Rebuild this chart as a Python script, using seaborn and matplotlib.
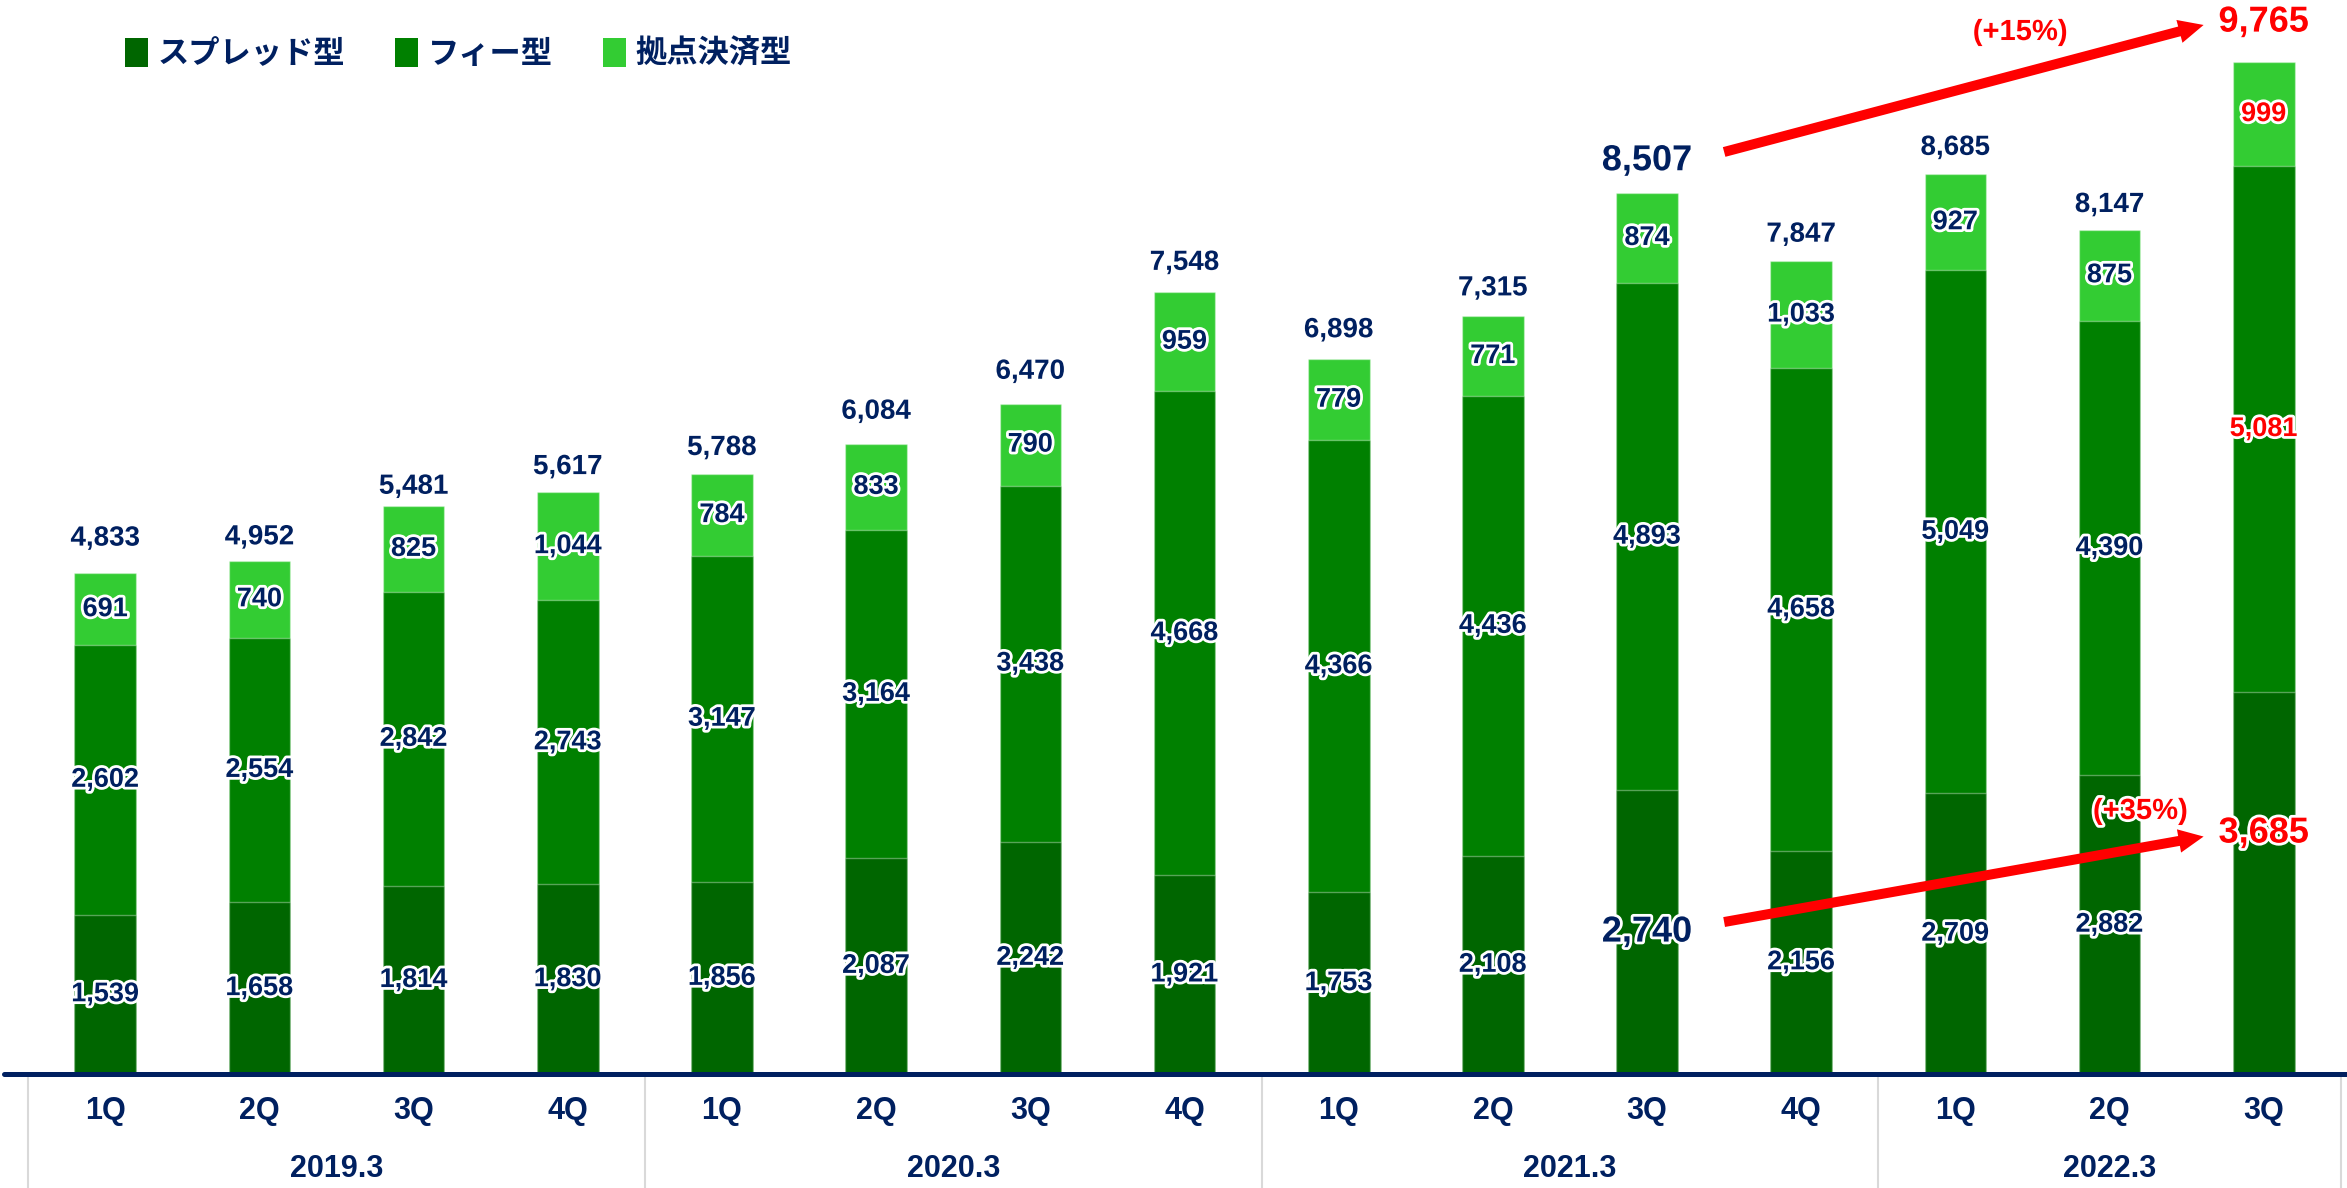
import matplotlib
matplotlib.use("Agg")
import matplotlib.pyplot as plt
import matplotlib.patheffects as pe
import matplotlib.transforms as mtransforms
from matplotlib.patches import Patch
from matplotlib.font_manager import FontProperties
import pandas as pd
import seaborn as sns

# ---- data -------------------------------------------------------------
quarters = ["1Q", "2Q", "3Q", "4Q", "1Q", "2Q", "3Q", "4Q",
            "1Q", "2Q", "3Q", "4Q", "1Q", "2Q", "3Q"]
fiscal_years = ["2019.3"] * 4 + ["2020.3"] * 4 + ["2021.3"] * 4 + ["2022.3"] * 3
year_labels = ["2019.3", "2020.3", "2021.3", "2022.3"]

spread = [1539, 1658, 1814, 1830, 1856, 2087, 2242, 1921,
          1753, 2108, 2740, 2156, 2709, 2882, 3685]
fee = [2602, 2554, 2842, 2743, 3147, 3164, 3438, 4668,
       4366, 4436, 4893, 4658, 5049, 4390, 5081]
hub = [691, 740, 825, 1044, 784, 833, 790, 959,
       779, 771, 874, 1033, 927, 875, 999]
totals = [4833, 4952, 5481, 5617, 5788, 6084, 6470, 7548,
          6898, 7315, 8507, 7847, 8685, 8147, 9765]

series_names = ["スプレッド型", "フィー型", "拠点決済型"]
series_colors = ["#006600", "#008000", "#33CC33"]

growth_total = "(+15%)"
growth_spread = "(+35%)"

NAVY = "#002060"
RED = "#FF0000"

# gap (points) between each bar top and the centre of its total label
total_label_gap = [25, 17, 14, 18, 19, 23, 23, 21, 21, 20, 23, 19, 19, 18, 29]

# ---- style ---------------------------------------------------------------
sns.set_style("white")
NUM_FONT = "Liberation Sans"
plt.rcParams["font.family"] = [NUM_FONT, "Noto Sans CJK JP", "DejaVu Sans"]

# ---- figure ------------------------------------------------------------
W, H = 2347, 1188
fig = plt.figure(figsize=(W / 100, H / 100), dpi=100)
base_px = 1074
ax = fig.add_axes([4 / W, (H - base_px) / H, (W - 4) / W, base_px / H])

df = pd.DataFrame({
    "period": [f"{y} {q}" for y, q in zip(fiscal_years, quarters)],
    "spread": spread, "fee": fee, "hub": hub,
})
df["fee_top"] = df["spread"] + df["fee"]
df["hub_top"] = df["fee_top"] + df["hub"]

# stacked bars drawn back to front as cumulative heights
for col, color in [("hub_top", series_colors[2]),
                   ("fee_top", series_colors[1]),
                   ("spread", series_colors[0])]:
    sns.barplot(data=df, x="period", y=col, color=color, saturation=1,
                width=0.40, errorbar=None, ax=ax,
                edgecolor=(1, 1, 1, 0.35), linewidth=1)

ax.set_xlim(-0.657, 14.54)
ax.set_ylim(0, 10367)
ax.set_xlabel("")
ax.set_ylabel("")
ax.set_yticks([])
for s in ax.spines.values():
    s.set_visible(False)
ax.axhline(0, color=NAVY, lw=3.6, zorder=5, clip_on=False)

ax.set_xticks(range(len(quarters)))
ax.set_xticklabels(quarters, fontsize=22, fontweight="bold", color=NAVY)
ax.tick_params(axis="x", length=0, pad=16)

trans = mtransforms.blended_transform_factory(ax.transData, ax.transAxes)
below = -(H - base_px) / base_px
for xs in [-0.5, 3.5, 7.5, 11.5, 14.5]:
    ax.plot([xs, xs], [0, below], transform=trans, color="#D9D9D9",
            lw=1.5, clip_on=False, zorder=1)
group_centers = [1.5, 5.5, 9.5, 13.0]
for xc, yl in zip(group_centers, year_labels):
    ax.text(xc, -(1169 - base_px) / base_px, yl, transform=trans,
            ha="center", va="center", fontsize=22, fontweight="bold",
            color=NAVY)

# ---- value labels -----------------------------------------------------
glow = [pe.withStroke(linewidth=4, foreground="white")]
for i in range(len(quarters)):
    mids = [spread[i] / 2,
            spread[i] + fee[i] / 2,
            spread[i] + fee[i] + hub[i] / 2]
    vals = [spread[i], fee[i], hub[i]]
    for k, (m, v) in enumerate(zip(mids, vals)):
        color = RED if i == 14 else NAVY
        if i == 10 and k == 0:
            ax.text(i, m, f"{v:,}", ha="center", va="center", fontsize=26,
                    fontweight="bold", color=NAVY, path_effects=glow,
                    zorder=6)
        elif i == 14 and k == 0:
            ax.text(i, 2326, f"{v:,}", ha="center", va="center",
                    fontsize=26, fontweight="bold", color=RED,
                    path_effects=glow, zorder=6)
        else:
            ax.text(i, m, f"{v:,}", ha="center", va="center", fontsize=19.5,
                    fontweight="bold", color=color, path_effects=glow,
                    zorder=6)

    big = i in (10, 14)
    ax.annotate(f"{totals[i]:,}", (i, totals[i]),
                xytext=(0, total_label_gap[i]), textcoords="offset points",
                ha="center", va="center", fontsize=26 if big else 20,
                fontweight="bold", color=RED if i == 14 else NAVY,
                path_effects=glow)

# ---- growth arrows ------------------------------------------------------
arrow_kw = dict(arrowstyle="simple,head_length=1.8,head_width=1.7,tail_width=0.72",
                fc=RED, ec="none", lw=0, mutation_scale=10,
                shrinkA=0, shrinkB=0)
ax.annotate("", xy=(13.61, 10126), xytext=(10.50, 8900),
            arrowprops=arrow_kw, annotation_clip=False, zorder=7)
ax.annotate("", xy=(13.61, 2292), xytext=(10.50, 1467),
            arrowprops=arrow_kw, annotation_clip=False, zorder=7)
ax.text(12.42, 10058, growth_total, ha="center", va="center", fontsize=21,
        fontweight="bold", color=RED, path_effects=glow)
ax.text(13.20, 2539, growth_spread, ha="center", va="center", fontsize=21,
        fontweight="bold", color=RED, path_effects=glow, zorder=7)

# ---- legend ---------------------------------------------------------------
handles = [Patch(facecolor=c, edgecolor="none") for c in series_colors]
leg = fig.legend(handles, series_names, loc="center left",
                 bbox_to_anchor=(112 / W, 1 - 54 / H), ncol=3, frameon=False,
                 handlelength=0.75, handleheight=1.05, handletextpad=0.3,
                 columnspacing=1.6, borderaxespad=0,
                 prop=FontProperties(family=["Noto Sans CJK JP"],
                                     weight="bold", size=22.5))
for t in leg.get_texts():
    t.set_color(NAVY)

fig.savefig("out.png", dpi=100)
